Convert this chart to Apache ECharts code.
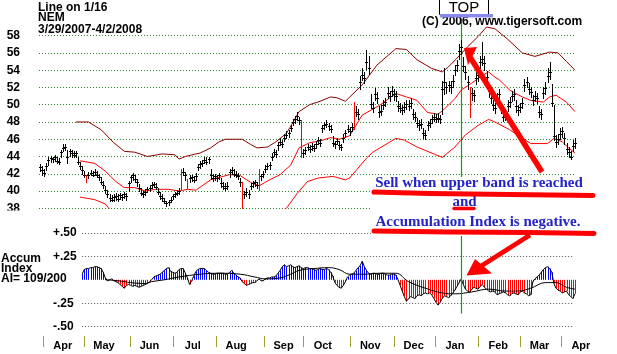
<!DOCTYPE html>
<html>
<head>
<meta charset="utf-8">
<script src="https://cdn.jsdelivr.net/npm/echarts@6/dist/echarts.min.js"></script>
<style>
  html, body { margin: 0; padding: 0; background: #fff; }
  #chart { width: 617px; height: 354px; }
</style>
</head>
<body>
<div id="chart"></div>
<script>
// months on the bottom axis and the trading days in each
var monthNames = ['Mar', 'Apr', 'May', 'Jun', 'Jul', 'Aug', 'Sep', 'Oct', 'Nov', 'Dec', 'Jan', 'Feb', 'Mar', 'Apr'];
var monthDays = [2, 20, 22, 21, 21, 23, 19, 23, 21, 20, 21, 20, 20, 2];

// NEM daily bars 3/29/2007 - 4/2/2008
var highs = [
  43.1,42.9,42.6,43.2,43.9,44.1,44.0,44.2,43.9,43.8,
  44.8,45.4,45.5,44.7,44.9,44.8,44.6,44.6,44.0,43.4,
  42.9,42.3,41.9,42.2,42.4,42.3,42.5,42.3,42.0,41.6,
  41.2,40.6,40.1,39.6,39.5,39.6,39.8,39.6,39.8,39.7,
  39.9,39.8,41.2,41.9,42.1,41.8,41.4,40.8,40.3,40.0,
  40.2,40.5,40.7,41.0,41.1,40.9,40.4,39.9,39.6,39.2,
  38.9,39.0,39.3,39.7,39.9,40.1,40.3,42.5,42.7,42.2,
  41.4,41.8,41.9,41.7,42.1,43.1,43.5,43.6,44.0,43.9,
  44.0,42.6,42.0,42.0,41.9,42.1,41.5,41.0,40.9,41.0,
  42.5,42.8,42.5,42.3,42.1,41.5,41.0,40.0,40.3,40.1,
  40.9,41.2,41.3,41.1,42.6,42.0,42.3,43.0,43.3,43.4,
  44.4,44.9,44.7,45.7,46.1,45.9,46.6,46.9,47.1,47.7,
  48.4,48.7,49.1,48.6,48.2,44.9,45.1,45.5,45.3,45.6,
  45.4,45.8,46.3,46.0,47.7,48.0,48.2,47.9,47.7,46.4,
  45.8,46.2,45.8,45.5,46.6,47.1,47.6,47.4,47.9,50.3,
  49.8,49.5,53.3,54.2,53.8,56.3,55.6,51.2,50.3,51.9,
  51.5,49.8,50.0,50.6,50.8,52.0,51.6,52.2,51.8,51.6,
  50.4,50.2,50.0,50.3,50.6,50.5,50.8,49.5,49.2,48.5,
  48.2,48.3,47.3,47.1,48.1,48.4,48.8,49.0,48.9,49.0,
  48.8,52.8,54.3,52.6,52.8,52.7,53.5,54.6,55.2,57.0,
  57.5,55.5,54.5,53.3,52.0,51.9,51.7,53.8,54.1,55.7,
  57.3,55.6,53.9,52.4,51.5,50.6,50.2,51.4,51.8,50.2,
  49.2,49.4,50.5,50.9,51.6,51.8,50.5,50.0,50.2,50.8,
  53.0,53.2,52.5,52.1,51.1,51.6,51.4,49.9,49.5,52.0,
  52.6,54.2,55.0,52.4,50.0,46.5,46.6,47.3,47.4,46.7,
  45.6,45.1,44.6,45.9,46.2
];
var lows = [
  42.3,41.8,41.7,42.4,43.0,43.4,43.4,43.5,43.2,43.1,
  44.0,44.6,44.7,43.3,44.1,44.0,43.9,44.0,43.1,42.6,
  42.0,41.6,41.0,41.5,41.8,41.7,41.8,41.6,41.3,40.8,
  40.4,39.8,39.3,38.9,38.8,38.9,39.0,38.8,39.1,39.0,
  39.2,39.0,40.0,41.0,41.3,41.0,40.6,40.0,39.5,39.3,
  39.5,39.9,40.0,40.3,40.5,40.2,39.6,39.1,38.9,38.6,
  38.3,38.4,38.7,39.1,39.3,39.5,39.7,40.2,41.8,41.3,
  40.4,41.1,41.2,41.0,41.3,42.4,42.7,42.9,43.2,43.1,
  43.2,41.4,41.2,41.3,41.2,41.4,40.5,40.2,40.1,40.2,
  41.6,42.0,41.7,41.6,41.4,40.6,38.0,39.2,39.4,39.2,
  40.2,40.5,40.6,40.4,40.1,41.3,41.6,42.2,42.5,42.6,
  43.6,44.1,43.9,44.8,45.3,45.1,45.8,46.1,46.3,46.9,
  47.6,47.9,48.2,47.8,44.0,44.0,44.3,44.7,44.5,44.8,
  44.6,45.0,45.4,45.2,46.8,47.2,47.4,47.1,46.8,45.2,
  45.0,45.4,44.9,44.7,45.7,46.3,46.8,46.5,47.0,47.2,
  48.7,48.4,51.8,52.9,52.5,54.1,53.6,49.6,49.1,50.6,
  50.2,48.6,48.8,49.5,49.8,50.8,50.4,51.0,50.6,50.4,
  49.3,49.1,48.9,49.1,49.5,49.4,49.6,48.4,48.1,47.4,
  47.1,47.3,46.1,46.0,47.1,47.4,47.9,48.1,48.0,48.0,
  47.9,48.9,51.2,51.3,51.6,51.4,52.1,53.4,53.9,55.3,
  55.9,53.9,53.0,51.8,48.6,50.6,50.4,52.4,52.8,54.3,
  54.6,54.0,52.5,50.9,50.2,49.4,49.0,50.2,50.6,49.0,
  48.1,48.2,49.3,49.7,50.4,50.6,49.2,48.8,49.1,49.6,
  51.6,52.0,51.2,50.9,50.0,50.4,50.2,48.6,48.3,50.8,
  51.2,52.6,53.0,49.8,45.9,45.1,45.4,46.0,46.3,45.5,
  44.3,43.9,43.7,44.6,45.0
];
var closes = [
  42.8,42.4,42.1,42.9,43.6,43.8,43.7,43.9,43.5,43.4,
  44.5,45.0,45.1,44.0,44.6,44.4,44.2,44.4,43.4,42.9,
  42.4,41.9,41.3,41.9,42.1,41.9,42.2,41.9,41.6,41.1,
  40.7,40.1,39.6,39.2,39.0,39.3,39.4,39.1,39.5,39.3,
  39.6,39.4,40.9,41.6,41.8,41.4,41.0,40.3,39.8,39.6,
  39.9,40.2,40.4,40.7,40.8,40.5,39.9,39.4,39.2,38.8,
  38.6,38.7,39.0,39.4,39.6,39.8,40.0,41.9,42.2,41.8,
  41.0,41.5,41.6,41.3,41.7,42.8,43.1,43.3,43.6,43.4,
  43.7,41.9,41.5,41.7,41.5,41.8,40.9,40.6,40.4,40.6,
  42.2,42.4,42.0,41.9,41.7,41.0,40.0,39.6,39.9,39.7,
  40.6,40.9,41.0,40.7,40.9,41.7,42.0,42.6,42.9,43.0,
  44.0,44.5,44.3,45.3,45.7,45.5,46.2,46.5,46.7,47.3,
  48.0,48.3,48.7,48.2,44.6,44.4,44.7,45.1,44.9,45.2,
  45.0,45.4,45.9,45.6,47.3,47.6,47.8,47.5,47.2,45.6,
  45.4,45.8,45.3,45.1,46.2,46.7,47.2,46.9,47.4,49.8,
  49.2,48.9,52.6,53.5,53.1,54.9,54.3,50.1,49.6,51.2,
  50.8,49.1,49.3,50.0,50.3,51.4,51.0,51.6,51.2,51.0,
  49.8,49.6,49.4,49.7,50.1,49.9,50.2,48.9,48.6,47.9,
  47.6,47.8,46.7,46.5,47.6,47.9,48.3,48.6,48.4,48.5,
  48.3,51.8,52.6,52.0,52.3,52.1,52.8,54.0,54.6,56.2,
  56.7,54.5,53.8,52.6,51.0,51.3,51.1,53.1,53.4,55.0,
  55.3,54.8,53.2,51.6,50.8,50.0,49.6,50.8,51.2,49.6,
  48.6,48.8,49.9,50.3,51.0,51.2,49.8,49.4,49.7,50.2,
  52.3,52.6,51.8,51.5,50.5,51.0,50.8,49.2,48.9,51.3,
  51.9,53.3,53.8,50.2,46.4,45.7,46.0,46.6,46.9,46.1,
  44.9,44.5,44.0,45.2,45.6
];
// days drawn as red bars
var redBars = [22, 67, 70, 96, 104, 124, 149, 204];

// bands as [day, value]
var upperBand = [[17,48.0],[23,48.0],[29,47.1],[35,45.6],[40,44.6],[45,44.5],[51,44.0],[58,44.3],[64,44.2],[66,43.7],[69,44.0],[74,44.3],[76,44.4],[81,45.0],[85,45.7],[88,46.0],[96,46.0],[100,45.4],[103,45.0],[108,45.1],[112,45.7],[117,46.7],[120,47.9],[123,49.2],[128,50.0],[133,50.4],[138,50.9],[141,50.8],[145,50.4],[153,52.3],[160,54.6],[169,56.5],[174,56.4],[179,55.2],[186,54.2],[191,53.8],[194,54.4],[198,55.4],[203,56.7],[208,57.9],[212,59.0],[216,58.8],[222,57.6],[229,56.0],[235,55.6],[242,56.1],[246,56.0],[250,55.0],[254,54.0]];
var middleBand = [[19,43.5],[26,43.2],[31,42.3],[36,41.1],[40,40.4],[45,40.4],[50,40.0],[55,40.2],[61,40.2],[66,40.0],[70,40.2],[74,40.1],[81,41.3],[90,41.9],[95,41.8],[100,41.0],[104,40.6],[109,41.3],[114,41.9],[119,43.0],[123,45.0],[128,45.6],[133,45.8],[138,46.2],[142,46.0],[147,46.4],[153,48.8],[161,49.9],[169,51.3],[174,50.9],[179,50.5],[184,49.1],[189,48.9],[192,49.5],[197,50.7],[200,51.7],[205,52.5],[210,53.4],[213,53.8],[216,53.2],[218,52.9],[223,51.7],[229,50.9],[233,50.5],[239,50.3],[242,50.9],[245,51.1],[250,50.3],[254,49.2]];
var lowerBand = [[19,39.3],[26,39.0],[31,38.5],[33,37.9],[36,37.0],[40,36.4],[45,36.4],[50,36.0],[55,36.2],[61,36.2],[66,36.0],[70,36.2],[74,36.1],[81,37.2],[90,37.7],[95,37.6],[100,36.9],[104,36.5],[109,37.2],[114,37.7],[117,38.0],[122,39.7],[127,41.1],[132,41.5],[139,41.7],[145,41.3],[147,41.5],[155,43.8],[158,44.5],[169,46.1],[173,45.9],[179,45.1],[191,43.9],[197,45.1],[202,46.5],[208,47.6],[213,48.3],[216,48.0],[223,47.1],[233,45.5],[241,45.5],[244,46.1],[248,45.7],[251,45.0],[254,44.4]];

// accumulation index, first value on day 20
var aiStart = 20;
var accum = [
  0.06,0.11,0.12,0.12,0.13,0.13,0.14,0.14,0.13,0.12,
  0.08,0.02,-0.01,0.00,0.01,-0.01,-0.02,-0.03,-0.05,-0.07,
  -0.09,-0.06,-0.05,-0.06,-0.07,-0.06,-0.07,-0.08,-0.07,-0.06,
  -0.05,-0.04,-0.02,0.00,0.03,0.04,0.05,0.06,0.08,0.10,
  0.12,0.13,0.09,0.08,0.07,0.08,0.11,0.12,0.12,0.07,
  0.02,-0.05,-0.01,0.04,0.09,0.11,0.12,0.12,0.12,0.10,
  0.08,0.07,0.06,0.06,0.07,0.07,0.07,0.07,0.06,0.06,
  0.08,0.10,0.07,0.05,0.03,0.02,-0.02,-0.04,-0.06,-0.05,
  -0.04,-0.03,-0.03,-0.01,0.01,-0.01,-0.01,0.01,0.02,0.02,
  0.03,0.03,0.04,0.07,0.10,0.14,0.16,0.14,0.15,0.16,
  0.14,0.13,0.14,0.15,0.13,0.12,0.13,0.13,0.12,0.12,
  0.11,0.10,0.11,0.12,0.11,0.11,0.12,0.11,0.08,0.04,
  -0.03,-0.06,-0.08,-0.09,-0.06,-0.02,0.03,0.05,0.06,0.07,
  0.10,0.13,0.15,0.20,0.14,0.10,0.07,0.06,0.07,0.07,
  0.06,0.06,0.07,0.07,0.06,0.05,0.05,0.06,0.06,0.05,
  0.00,-0.06,-0.12,-0.18,-0.23,-0.20,-0.18,-0.19,-0.20,-0.17,
  -0.16,-0.17,-0.15,-0.14,-0.15,-0.14,-0.16,-0.20,-0.24,-0.27,
  -0.24,-0.20,-0.17,-0.18,-0.19,-0.17,-0.14,-0.11,-0.07,-0.03,
  0.01,-0.05,-0.10,-0.12,-0.13,-0.10,-0.08,-0.09,-0.10,-0.07,
  -0.05,-0.08,-0.10,-0.12,-0.13,-0.12,-0.13,-0.16,-0.15,-0.14,
  -0.13,-0.14,-0.16,-0.17,-0.15,-0.14,-0.15,-0.16,-0.13,-0.12,
  -0.14,-0.15,-0.17,-0.16,-0.02,0.01,0.03,0.05,0.08,0.11,
  0.13,0.14,0.12,0.08,-0.04,-0.09,-0.11,-0.12,-0.14,-0.13,
  -0.12,-0.16,-0.18,-0.20,-0.15
];
var accumAvg = [[31,0.0],[37,-0.01],[43,-0.03],[50,-0.04],[53,-0.02],[59,0.0],[66,0.03],[76,0.06],[85,0.07],[95,0.06],[102,0.03],[107,0.01],[114,0.02],[119,0.06],[123,0.10],[130,0.12],[137,0.13],[142,0.11],[147,0.06],[154,0.06],[161,0.07],[169,0.07],[175,-0.02],[183,-0.09],[191,-0.14],[197,-0.15],[205,-0.13],[213,-0.10],[221,-0.12],[227,-0.12],[233,-0.09],[240,-0.03],[245,-0.03],[250,-0.08],[254,-0.10]];
var aiLevels = [0.5, 0.25, -0.25, -0.5];
// the 1/16 line: [day, top value, bottom value] in each panel
var priceLine = [[200, 60, 38]];
var aiLine = [[200, 0.5, -0.36]];

// ---- layout
var nDays = closes.length;
var plotLeft = 39, plotWidth = 537;
var dayW = plotWidth / nDays;
var dayCats = [];
for (var i = 0; i < nDays; i++) dayCats.push('d' + i);
// month axis runs past the right edge so the last label fits
var axisCats = [];
for (var i = 0; i < nDays + 25; i++) axisCats.push('d' + i);
var tickAt = {}, labelAt = {};
var pos = 0;
monthNames.forEach(function (m, mi) {
  if (mi > 0) { tickAt['d' + pos] = true; labelAt['d' + (pos + 9)] = m; }
  pos += monthDays[mi];
});

var bars = closes.map(function (c, i) { return [i, highs[i], lows[i], c]; });
var aiData = accum.map(function (v, i) { return [aiStart + i, v]; });
var aiEnd = aiStart + accum.length - 2;

var sans = '"Liberation Sans", Arial, sans-serif';
var serif = '"Liberation Serif", "Times New Roman", serif';

function renderBar(params, api) {
  var d = api.value(0);
  var hi = api.coord([d, api.value(1)]);
  var lo = api.coord([d, api.value(2)]);
  var cl = api.coord([d, api.value(3)]);
  var x = Math.round(hi[0]) + 0.5;
  var red = redBars.indexOf(d) >= 0;
  var kids = [{ type: 'line', shape: { x1: x, y1: Math.round(hi[1]), x2: x, y2: Math.round(lo[1]) + 1 },
    style: { stroke: red ? '#ff0000' : '#000', lineWidth: 1 } }];
  if (!red) {
    var y = Math.round(cl[1]) + 0.5;
    kids.push({ type: 'line', shape: { x1: x - 1.5, y1: y, x2: x + 1.5, y2: y }, style: { stroke: '#000', lineWidth: 1 } });
  }
  return { type: 'group', children: kids };
}

function renderAI(params, api) {
  var d = api.value(0);
  var v = api.value(1);
  var p = api.coord([d, v]);
  var z = api.coord([d, 0]);
  var x = Math.round(p[0]) + 0.5;
  return { type: 'line', shape: { x1: x, y1: z[1], x2: x, y2: p[1] },
    style: { stroke: v < 0 ? '#ff0000' : '#0000ff', lineWidth: 1 } };
}

function renderVLine(params, api) {
  var d = api.value(0);
  var a = api.coord([d, api.value(1)]);
  var b = api.coord([d, api.value(2)]);
  var x = Math.round(a[0]) + 0.5;
  return { type: 'line', shape: { x1: x, y1: a[1], x2: x, y2: b[1] },
    style: { stroke: '#00a800', lineWidth: 1.2 } };
}

function txt(x, y, s, font, color, align) {
  return { type: 'text', x: x, y: y, z: 120,
    style: { text: s, font: font, fill: color || '#000', align: align || 'left', verticalAlign: 'middle' } };
}

var chart = echarts.init(document.getElementById('chart'));
chart.setOption({
  animation: false,
  backgroundColor: '#fff',
  grid: [
    { left: plotLeft, width: plotWidth, top: 18.4, height: 189.9 },
    { left: plotLeft, width: plotWidth, top: 233, height: 93.6 },
    { left: plotLeft, width: axisCats.length * dayW, top: 335, height: 1 }
  ],
  xAxis: [
    { type: 'category', gridIndex: 0, data: dayCats, show: false },
    { type: 'category', gridIndex: 1, data: dayCats, show: false },
    { type: 'category', gridIndex: 2, data: axisCats,
      axisLine: { show: false },
      axisTick: { show: true, length: 11, interval: function (i, v) { return !!tickAt[v]; },
        lineStyle: { color: '#a0a030', width: 1 } },
      axisLabel: { interval: function (i, v) { return labelAt[v] !== undefined; },
        formatter: function (v) { return labelAt[v] || ''; },
        color: '#000', fontWeight: 'bold', fontSize: 11, fontFamily: 'Liberation Sans', margin: 4 },
      splitLine: { show: false } }
  ],
  yAxis: [
    { type: 'value', gridIndex: 0, min: 38, max: 60, interval: 2,
      axisLine: { show: false }, axisTick: { show: false },
      axisLabel: { showMaxLabel: false, color: '#000', fontWeight: 'bold', fontSize: 12,
        fontFamily: 'Liberation Sans', margin: 19 },
      splitLine: { show: true, showMaxLine: false, lineStyle: { color: '#2a8a2a', type: [1, 2], width: 1 } } },
    { type: 'value', gridIndex: 1, min: -0.5, max: 0.5, interval: 0.25,
      axisLine: { show: false }, axisTick: { show: false }, splitLine: { show: false },
      axisLabel: { inside: true, margin: 14, color: '#000', fontWeight: 'bold', fontSize: 12,
        fontFamily: 'Liberation Sans',
        formatter: function (v) {
          if (Math.abs(v) < 1e-9) return '';
          return (v > 0 ? '+' : '-') + '.' + String(Math.round(Math.abs(v) * 100));
        } } },
    { type: 'value', gridIndex: 2, show: false }
  ],
  series: [
    { type: 'custom', name: '1/16', xAxisIndex: 0, yAxisIndex: 0, data: priceLine, renderItem: renderVLine,
      encode: { x: 0, y: [1, 2] }, z: 2 },
    { type: 'line', name: 'upper', xAxisIndex: 0, yAxisIndex: 0, data: upperBand, showSymbol: false,
      lineStyle: { color: '#8b0000', width: 1 }, z: 3 },
    { type: 'line', name: 'middle', xAxisIndex: 0, yAxisIndex: 0, data: middleBand, showSymbol: false,
      lineStyle: { color: '#ff0000', width: 1 }, z: 3 },
    { type: 'line', name: 'lower', xAxisIndex: 0, yAxisIndex: 0, data: lowerBand, showSymbol: false,
      lineStyle: { color: '#ff0000', width: 1 }, z: 3 },
    { type: 'custom', name: 'NEM', xAxisIndex: 0, yAxisIndex: 0, data: bars, renderItem: renderBar,
      encode: { x: 0, y: [1, 2, 3] }, z: 4 },
    { type: 'custom', name: 'AI', xAxisIndex: 1, yAxisIndex: 1, data: aiData, renderItem: renderAI,
      encode: { x: 0, y: 1 }, z: 3 },
    { type: 'line', name: 'AI line', xAxisIndex: 1, yAxisIndex: 1, data: aiData, showSymbol: false,
      lineStyle: { color: '#000', width: 1 }, z: 4,
      markLine: { silent: true, symbol: ['none', 'none'], label: { show: false },
        lineStyle: { color: '#555', type: [1, 2], width: 1 },
        data: aiLevels.map(function (lv) { return [{ coord: [aiStart, lv] }, { coord: [aiEnd, lv] }]; }) } },
    { type: 'custom', name: '1/16 AI', xAxisIndex: 1, yAxisIndex: 1, data: aiLine, renderItem: renderVLine,
      encode: { x: 0, y: [1, 2] }, z: 6 },
    { type: 'line', name: 'AI avg', xAxisIndex: 1, yAxisIndex: 1, data: accumAvg, showSymbol: false,
      smooth: 0.4, lineStyle: { color: '#000', width: 1 }, z: 5 }
  ],
  graphic: [
    // note box over the lower part of the price panel
    { type: 'rect', z: 100, shape: { x: 371, y: 177, width: 246, height: 59 }, style: { fill: '#fff' } },
    { type: 'rect', z: 100, shape: { x: 0, y: 210.5, width: 36, height: 12 }, style: { fill: '#fff' } },
    txt(38, 7.5, 'Line on 1/16', 'bold 12px ' + sans),
    txt(38, 18, 'NEM', 'bold 12px ' + sans),
    txt(38, 29.5, '3/29/2007-4/2/2008', 'bold 12px ' + sans),
    txt(422, 21.5, '(C) 2006, www.tigersoft.com', 'bold 12px ' + sans),
    { type: 'rect', z: 110, shape: { x: 439.5, y: -0.5, width: 49, height: 15 }, style: { fill: '#fff', stroke: '#000', lineWidth: 1 } },
    txt(464, 8, 'TOP', '15px ' + sans, '#000', 'center'),
    { type: 'rect', z: 121, shape: { x: 440, y: 14, width: 53, height: 3.5 }, style: { fill: '#8a8aee' } },
    txt(1, 259, 'Accum', 'bold 12px ' + sans),
    txt(1, 269, 'Index', 'bold 12px ' + sans),
    txt(1, 279, 'AI= 109/200', 'bold 12px ' + sans),
    txt(479, 183, 'Sell when upper band is reached', 'bold 15px ' + serif, '#2323c8', 'center'),
    txt(464.5, 202, 'and', 'bold 15px ' + serif, '#2323c8', 'center'),
    txt(478, 222, 'Accumulation Index is negative.', 'bold 15px ' + serif, '#2323c8', 'center'),
    { type: 'polyline', z: 125, shape: { points: [[374, 192], [430, 193.5], [510, 194.5], [593, 195.5]] },
      style: { stroke: '#ff0000', lineWidth: 5, lineCap: 'round', fill: null } },
    { type: 'polyline', z: 125, shape: { points: [[454, 208.5], [474, 208.5]] },
      style: { stroke: '#ff0000', lineWidth: 3.5, lineCap: 'round', fill: null } },
    { type: 'polyline', z: 125, shape: { points: [[374, 231], [450, 232], [530, 232.5], [594, 233.5]] },
      style: { stroke: '#ff0000', lineWidth: 5, lineCap: 'round', fill: null } },
    // arrows
    { type: 'polyline', z: 125, shape: { points: [[542, 172], [470, 57]] },
      style: { stroke: '#ff0000', lineWidth: 5.5, fill: null } },
    { type: 'polygon', z: 125, shape: { points: [[464, 48], [477, 47], [468, 65]] }, style: { fill: '#ff0000' } },
    { type: 'polyline', z: 125, shape: { points: [[530, 235], [478, 268]] },
      style: { stroke: '#ff0000', lineWidth: 4.5, fill: null } },
    { type: 'polygon', z: 125, shape: { points: [[466.5, 275.5], [475, 259], [492, 273.5]] }, style: { fill: '#ff0000' } }
  ]
});
</script>
</body>
</html>
